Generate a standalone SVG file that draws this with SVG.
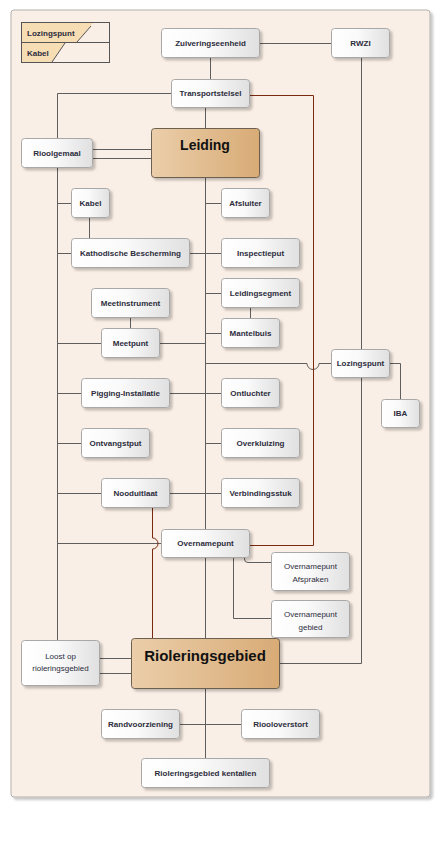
<svg xmlns="http://www.w3.org/2000/svg" width="440" height="853" viewBox="0 0 440 853">
<defs>
<linearGradient id="gNode" x1="0" y1="0" x2="1" y2="0"><stop offset="0" stop-color="#FFFFFF"/><stop offset="0.45" stop-color="#FAFAFA"/><stop offset="1" stop-color="#E0E0E0"/></linearGradient>
<linearGradient id="gMain" x1="0" y1="0" x2="1" y2="0"><stop offset="0" stop-color="#EBCEAA"/><stop offset="1" stop-color="#D8AB76"/></linearGradient>
<filter id="sh" x="-20%" y="-20%" width="150%" height="160%"><feDropShadow dx="2.5" dy="2.5" stdDeviation="1" flood-color="#000" flood-opacity="0.22"/></filter>
</defs>
<style>
.n{fill:url(#gNode);stroke:#A8A8A8;stroke-width:1;filter:url(#sh)}
.m{fill:url(#gMain);stroke:#6E6050;stroke-width:1;filter:url(#sh)}
.t{font-family:"Liberation Sans",Arial,sans-serif;font-size:8px;font-weight:bold;fill:#2C2C3C;text-anchor:middle}
.tr{font-family:"Liberation Sans",Arial,sans-serif;font-size:8px;fill:#2C2C3C;text-anchor:middle}
.tm{font-family:"Liberation Sans",Arial,sans-serif;font-weight:bold;fill:#111;text-anchor:middle}
.c{fill:none;stroke:#5E5E5E;stroke-width:1}
.r{fill:none;stroke:#7A2A10;stroke-width:1}
</style>
<rect x="11" y="10" width="419" height="787" rx="3" fill="#FAEFE6" stroke="#B4B0AC" filter="url(#sh)"/>
<g id="legend">
<rect x="21.5" y="22.5" width="88" height="40" fill="none" stroke="#555"/>
<polygon points="22,23 93,23 77,42 22,42" fill="#F6DDB3"/>
<line x1="91" y1="26" x2="77" y2="42" stroke="#555"/>
<polygon points="22,43 65,43 52,62 22,62" fill="#F6DDB3"/>
<line x1="65" y1="43" x2="52" y2="62" stroke="#555"/>
<line x1="21.5" y1="42.5" x2="109.5" y2="42.5" stroke="#555"/>
<text x="27" y="36" class="t" style="text-anchor:start">Lozingspunt</text>
<text x="27" y="56" class="t" style="text-anchor:start">Kabel</text>
</g>
<g id="connectors">
<path class="c" d="M259,43.5 H331"/>
<path class="c" d="M210.5,57 V79"/>
<path class="c" d="M171,93.5 H57.5 V138"/>
<path class="c" d="M57.5,167 V640"/>
<path class="c" d="M205.5,107 V128"/>
<path class="c" d="M205.5,177 V638"/>
<path class="c" d="M92,149.5 H151 M92,158.5 H151"/>
<path class="c" d="M361.5,57 V349 M361.5,377 V663.5 H279"/>
<path class="c" d="M389,363.5 H400.5 V399"/>
<path class="c" d="M331,363.5 H319 A6,6 0 0 1 307,363.5 H205.5"/>
<path class="c" d="M57.5,203.5 H71 M205.5,203.5 H221"/>
<path class="c" d="M89.5,217 V238"/>
<path class="c" d="M57.5,253.5 H71 M189,253.5 H221"/>
<path class="c" d="M205.5,293.5 H221 M250.5,307 V318 M205.5,333.5 H221"/>
<path class="c" d="M130.5,317 V328 M57.5,343.5 H101 M159,343.5 H205.5"/>
<path class="c" d="M57.5,393.5 H81 M169,393.5 H221"/>
<path class="c" d="M57.5,443.5 H81 M205.5,443.5 H221"/>
<path class="c" d="M57.5,493.5 H101 M169,493.5 H221"/>
<path class="c" d="M57.5,543.5 H161"/>
<path class="c" d="M244.5,557 V559 Q244.5,562.5 248,562.5 H271"/>
<path class="c" d="M233.5,557 V618.5 H271"/>
<path class="c" d="M99,658.5 H131 M99,673.5 H131"/>
<path class="c" d="M205.5,688 V758 M179,724.5 H241"/>
<path class="r" d="M249,95.5 H313.5 V545.5 H249"/>
<path class="r" d="M152.5,507 V538 A5.5,5.5 0 0 1 152.5,549 V638"/>
</g>
<g id="zuiveringseenheid"><rect class="n" x="161.5" y="28.5" width="98" height="29" rx="3"/><text class="t" x="210.5" y="46">Zuiveringseenheid</text></g>
<g id="rwzi"><rect class="n" x="331.5" y="28.5" width="58" height="29" rx="3"/><text class="t" x="360.5" y="46">RWZI</text></g>
<g id="transportstelsel"><rect class="n" x="171.5" y="79.5" width="78" height="28" rx="3"/><text class="t" x="210.5" y="96">Transportstelsel</text></g>
<g id="leiding"><rect class="m" x="151.5" y="128.5" width="108" height="49" rx="3"/><text class="tm" x="205" y="150" font-size="14">Leiding</text></g>
<g id="rioolgemaal"><rect class="n" x="21.5" y="138.5" width="71" height="29" rx="3"/><text class="t" x="57" y="156">Rioolgemaal</text></g>
<g id="kabel"><rect class="n" x="71.5" y="188.5" width="38" height="29" rx="3"/><text class="t" x="90.5" y="206">Kabel</text></g>
<g id="afsluiter"><rect class="n" x="221.5" y="188.5" width="48" height="29" rx="3"/><text class="t" x="245.5" y="206">Afsluiter</text></g>
<g id="kathodische-bescherming"><rect class="n" x="71.5" y="238.5" width="118" height="29" rx="3"/><text class="t" x="130.5" y="256">Kathodische Bescherming</text></g>
<g id="inspectieput"><rect class="n" x="221.5" y="238.5" width="78" height="29" rx="3"/><text class="t" x="260.5" y="256">Inspectieput</text></g>
<g id="leidingsegment"><rect class="n" x="221.5" y="278.5" width="78" height="29" rx="3"/><text class="t" x="260.5" y="296">Leidingsegment</text></g>
<g id="meetinstrument"><rect class="n" x="91.5" y="288.5" width="78" height="29" rx="3"/><text class="t" x="130.5" y="306">Meetinstrument</text></g>
<g id="mantelbuis"><rect class="n" x="221.5" y="318.5" width="58" height="29" rx="3"/><text class="t" x="250.5" y="336">Mantelbuis</text></g>
<g id="meetpunt"><rect class="n" x="101.5" y="328.5" width="58" height="29" rx="3"/><text class="t" x="130.5" y="346">Meetpunt</text></g>
<g id="lozingspunt"><rect class="n" x="331.5" y="349.5" width="58" height="28" rx="3"/><text class="t" x="360.5" y="366">Lozingspunt</text></g>
<g id="pigging-installatie"><rect class="n" x="81.5" y="378.5" width="88" height="29" rx="3"/><text class="t" x="125.5" y="396">Pigging-Installatie</text></g>
<g id="ontluchter"><rect class="n" x="221.5" y="378.5" width="58" height="29" rx="3"/><text class="t" x="250.5" y="396">Ontluchter</text></g>
<g id="iba"><rect class="n" x="381.5" y="399.5" width="38" height="28" rx="3"/><text class="t" x="400.5" y="416">IBA</text></g>
<g id="ontvangstput"><rect class="n" x="81.5" y="428.5" width="68" height="29" rx="3"/><text class="t" x="115.5" y="446">Ontvangstput</text></g>
<g id="overkluizing"><rect class="n" x="221.5" y="428.5" width="78" height="29" rx="3"/><text class="t" x="260.5" y="446">Overkluizing</text></g>
<g id="nooduitlaat"><rect class="n" x="101.5" y="478.5" width="68" height="29" rx="3"/><text class="t" x="135.5" y="496">Nooduitlaat</text></g>
<g id="verbindingsstuk"><rect class="n" x="221.5" y="478.5" width="78" height="29" rx="3"/><text class="t" x="260.5" y="496">Verbindingsstuk</text></g>
<g id="overnamepunt"><rect class="n" x="161.5" y="529.5" width="88" height="28" rx="3"/><text class="t" x="205.5" y="546">Overnamepunt</text></g>
<g id="overnamepunt-afspraken"><rect class="n" x="271.5" y="552.5" width="78" height="38" rx="3"/><text class="tr" x="310.5" y="569">Overnamepunt</text><text class="tr" x="310.5" y="582">Afspraken</text></g>
<g id="overnamepunt-gebied"><rect class="n" x="271.5" y="600.5" width="78" height="37" rx="3"/><text class="tr" x="310.5" y="617">Overnamepunt</text><text class="tr" x="310.5" y="630">gebied</text></g>
<g id="rioleringsgebied"><rect class="m" x="131.5" y="638.5" width="148" height="50" rx="3"/><text class="tm" x="205" y="661" font-size="15">Rioleringsgebied</text></g>
<g id="loost-op-rioleringsgebied"><rect class="n" x="21.5" y="640.5" width="78" height="45" rx="3"/><text class="tr" x="60.5" y="659">Loost op</text><text class="tr" x="60.5" y="671">rioleringsgebied</text></g>
<g id="randvoorziening"><rect class="n" x="101.5" y="709.5" width="78" height="29" rx="3"/><text class="t" x="140.5" y="727">Randvoorziening</text></g>
<g id="riooloverstort"><rect class="n" x="241.5" y="709.5" width="78" height="29" rx="3"/><text class="t" x="280.5" y="727">Riooloverstort</text></g>
<g id="rioleringsgebied-kentallen"><rect class="n" x="141.5" y="758.5" width="128" height="29" rx="3"/><text class="t" x="205.5" y="776">Rioleringsgebied kentallen</text></g>
</svg>
